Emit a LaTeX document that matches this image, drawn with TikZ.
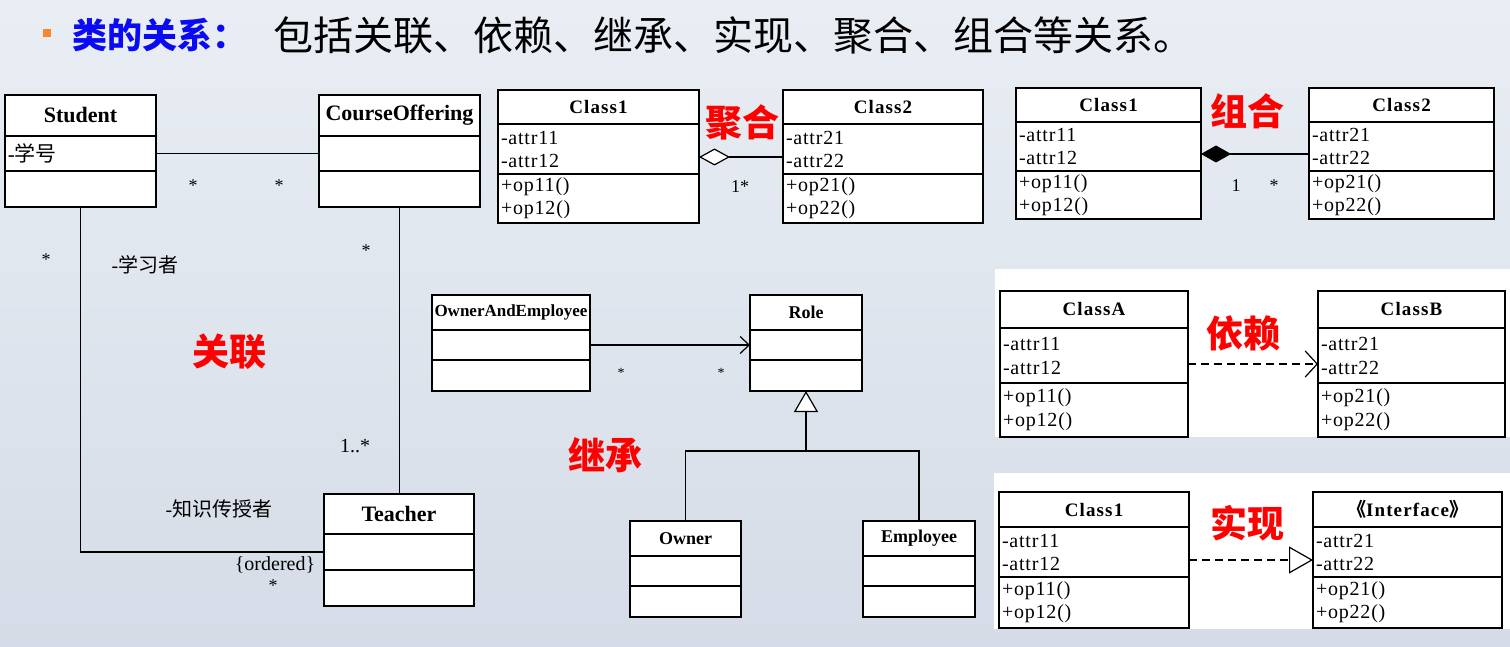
\documentclass[tikz,border=0pt]{standalone}
\usepackage{fontspec}
\setmainfont{Liberation Serif}
\newfontfamily\cjk{Noto Sans CJK SC}
\usetikzlibrary{arrows.meta,positioning}
\definecolor{bgtop}{RGB}{233,238,244}
\definecolor{bgbottom}{RGB}{213,220,231}
\definecolor{titleblue}{RGB}{10,10,245}
\definecolor{bulletorange}{RGB}{247,134,46}
\definecolor{relred}{RGB}{255,0,0}

\tikzset{
  umlhead/.style={draw, line width=1.6pt, fill=white, outer sep=0pt, inner sep=2pt, anchor=north west, font=\bfseries\addfontfeature{LetterSpace=6}\fontsize{19}{23}\selectfont},
  umlpart/.style={draw, line width=1.6pt, fill=white, outer sep=0pt, inner xsep=3pt, inner ysep=0pt, align=left, font=\addfontfeature{LetterSpace=4}\fontsize{20}{23}\selectfont},
  multtext/.style={inner sep=0pt, font=\fontsize{18}{20}\selectfont},
  roletext/.style={inner sep=0pt, font=\fontsize{20}{24}\selectfont},
  relname/.style={inner sep=0pt, text=relred, font=\cjk\bfseries\fontsize{37}{40}\selectfont},
  assocline/.style={line width=1.2pt},
  depline/.style={line width=1.2pt, dash pattern=on 8pt off 5pt},
}

\begin{document}
\begin{tikzpicture}[x=1pt, y=-1pt]
  \useasboundingbox (0,0) rectangle (1510,647);
  \shade[top color=bgtop, bottom color=bgbottom] (0,0) rectangle (1510,647);
  % white panels behind dependency and realization
  \fill[white] (995,269) rectangle (1510,437);
  \fill[white] (994,473) rectangle (1510,629);

  % title
  \node[fill=bulletorange, minimum size=8pt, inner sep=0pt] (bullet) at (47,33) {};
  \node[anchor=west, inner sep=0pt, text=titleblue, font=\cjk\bfseries\fontsize{35}{38}\selectfont] (ttl) at (72,35) {类的关系：};
  \node[anchor=west, inner sep=0pt, font=\cjk\fontsize{40}{42}\selectfont] (ttl-rest) at (273,35) {包括关联、依赖、继承、实现、聚合、组合等关系。};

  % association
  \node[umlhead, minimum width=151pt, minimum height=41pt, font=\bfseries\fontsize{22}{26}\selectfont] (stu) at (5,95) {Student};
  \node[umlpart, text width=145pt, minimum height=35pt, below=0pt of stu, font=\fontsize{21}{24}\selectfont] (stu-a) {-{\cjk 学号}};
  \node[umlpart, text width=145pt, minimum height=36pt, below=0pt of stu-a] (stu-o) {};

  \node[umlhead, minimum width=161pt, minimum height=41pt, font=\bfseries\fontsize{22}{26}\selectfont] (co) at (319,95) {CourseOffering};
  \node[umlpart, text width=155pt, minimum height=35pt, below=0pt of co] (co-a) {};
  \node[umlpart, text width=155pt, minimum height=36pt, below=0pt of co-a] (co-o) {};

  \node[umlhead, minimum width=150pt, minimum height=40pt, font=\bfseries\fontsize{22}{26}\selectfont] (tea) at (324,494) {Teacher};
  \node[umlpart, text width=144pt, minimum height=36pt, below=0pt of tea] (tea-a) {};
  \node[umlpart, text width=144pt, minimum height=36pt, below=0pt of tea-a] (tea-o) {};

  \draw[assocline] (stu-a.east) -- (co-a.west);
  \draw[assocline] (stu-o.south) |- (tea-a.west);
  \draw[assocline] (co-o.south) -- (co-o.south |- tea.north);

  \node[multtext] (m-stu) at (193,186) {*};
  \node[multtext] (m-co) at (279,186) {*};
  \node[multtext] (m-stu2) at (46,260) {*};
  \node[roletext] (r-learner) at (145,265) {-{\cjk 学习者}};
  \node[multtext] (m-co2) at (366,251) {*};
  \node[roletext] (m-tea) at (355,446) {1..*};
  \node[roletext] (r-teacher) at (219,509) {-{\cjk 知识传授者}};
  \node[roletext] (c-ordered) at (275,565) {\{ordered\}};
  \node[multtext] (m-tea2) at (273,586) {*};
  \node[relname] (lbl-assoc) at (229,352) {关联};

  % aggregation
  \node[umlhead, minimum width=201pt, minimum height=34pt] (agA) at (498,90) {Class1};
  \node[umlpart, text width=195pt, minimum height=50pt, below=0pt of agA] (agA-a) {-attr11\\-attr12};
  \node[umlpart, text width=195pt, minimum height=49pt, below=0pt of agA-a] (agA-o) {+op11()\\+op12()};

  \node[umlhead, minimum width=200pt, minimum height=34pt] (agB) at (783,90) {Class2};
  \node[umlpart, text width=194pt, minimum height=50pt, below=0pt of agB] (agB-a) {-attr21\\-attr22};
  \node[umlpart, text width=194pt, minimum height=49pt, below=0pt of agB-a] (agB-o) {+op21()\\+op22()};

  \draw[assocline, {Diamond[fill=white, length=31pt, width=17pt]}-] ([yshift=-8pt]agA-a.east) -- ([yshift=-8pt]agB-a.west);
  \node[multtext] (m-ag) at (740,187) {1*};
  \node[relname] (lbl-agg) at (742,122) {聚合};

  % composition
  \node[umlhead, minimum width=185pt, minimum height=34pt] (cpA) at (1016,88) {Class1};
  \node[umlpart, text width=179pt, minimum height=49pt, below=0pt of cpA] (cpA-a) {-attr11\\-attr12};
  \node[umlpart, text width=179pt, minimum height=48pt, below=0pt of cpA-a] (cpA-o) {+op11()\\+op12()};

  \node[umlhead, minimum width=185pt, minimum height=34pt] (cpB) at (1309,88) {Class2};
  \node[umlpart, text width=179pt, minimum height=49pt, below=0pt of cpB] (cpB-a) {-attr21\\-attr22};
  \node[umlpart, text width=179pt, minimum height=48pt, below=0pt of cpB-a] (cpB-o) {+op21()\\+op22()};

  \draw[assocline, {Diamond[length=30pt, width=17pt]}-] ([yshift=-7.5pt]cpA-a.east) -- ([yshift=-7.5pt]cpB-a.west);
  \node[multtext] (m-cp1) at (1236,186) {1};
  \node[multtext] (m-cp2) at (1274,186) {*};
  \node[relname] (lbl-comp) at (1247,111) {组合};

  % generalization
  \node[umlhead, minimum width=158pt, minimum height=35pt, font=\bfseries\fontsize{17}{20}\selectfont] (oae) at (432,295) {OwnerAndEmployee};
  \node[umlpart, text width=152pt, minimum height=30pt, below=0pt of oae] (oae-a) {};
  \node[umlpart, text width=152pt, minimum height=31pt, below=0pt of oae-a] (oae-o) {};

  \node[umlhead, minimum width=112pt, minimum height=35pt, font=\bfseries\fontsize{18}{20}\selectfont] (rl) at (750,295) {Role};
  \node[umlpart, text width=106pt, minimum height=30pt, below=0pt of rl] (rl-a) {};
  \node[umlpart, text width=106pt, minimum height=31pt, below=0pt of rl-a] (rl-o) {};

  \node[umlhead, minimum width=111pt, minimum height=35pt, font=\bfseries\fontsize{18}{20}\selectfont] (own) at (630,521) {Owner};
  \node[umlpart, text width=105pt, minimum height=30pt, below=0pt of own] (own-a) {};
  \node[umlpart, text width=105pt, minimum height=31pt, below=0pt of own-a] (own-o) {};

  \node[umlhead, minimum width=112pt, minimum height=35pt, font=\bfseries\fontsize{18}{20}\selectfont] (emp) at (863,521) {Employee};
  \node[umlpart, text width=106pt, minimum height=30pt, below=0pt of emp] (emp-a) {};
  \node[umlpart, text width=106pt, minimum height=31pt, below=0pt of emp-a] (emp-o) {};

  \draw[assocline, -{Straight Barb[length=9pt, width=17pt]}] (oae-a.east) -- (rl-a.west);
  \node[multtext, font=\fontsize{14}{16}\selectfont] (m-oae) at (621,373) {*};
  \node[multtext, font=\fontsize{14}{16}\selectfont] (m-rl) at (721,373) {*};
  \draw[assocline, {Triangle[fill=white, length=21pt, width=24pt]}-] (rl-o.south) -- ++(0,60) coordinate (jn) -| (own.north);
  \draw[assocline] (jn) -| (emp.north);
  \node[relname] (lbl-inh) at (605,455) {继承};

  % dependency
  \node[umlhead, minimum width=188pt, minimum height=37pt] (dpA) at (1000,291) {ClassA};
  \node[umlpart, text width=182pt, minimum height=55pt, below=0pt of dpA, font=\addfontfeature{LetterSpace=4}\fontsize{20}{24}\selectfont] (dpA-a) {-attr11\\-attr12};
  \node[umlpart, text width=182pt, minimum height=54pt, below=0pt of dpA-a, font=\addfontfeature{LetterSpace=4}\fontsize{20}{24}\selectfont] (dpA-o) {+op11()\\+op12()};

  \node[umlhead, minimum width=187pt, minimum height=37pt] (dpB) at (1318,291) {ClassB};
  \node[umlpart, text width=181pt, minimum height=55pt, below=0pt of dpB, font=\addfontfeature{LetterSpace=4}\fontsize{20}{24}\selectfont] (dpB-a) {-attr21\\-attr22};
  \node[umlpart, text width=181pt, minimum height=54pt, below=0pt of dpB-a, font=\addfontfeature{LetterSpace=4}\fontsize{20}{24}\selectfont] (dpB-o) {+op21()\\+op22()};

  \draw[depline, -{Straight Barb[length=12pt, width=26pt]}] ([yshift=-8.5pt]dpA-a.east) -- ([yshift=-8.5pt]dpB-a.west);
  \node[relname] (lbl-dep) at (1243,333) {依赖};

  % realization
  \node[umlhead, minimum width=190pt, minimum height=35pt] (rzA) at (999,492) {Class1};
  \node[umlpart, text width=184pt, minimum height=50pt, below=0pt of rzA] (rzA-a) {-attr11\\-attr12};
  \node[umlpart, text width=184pt, minimum height=51pt, below=0pt of rzA-a] (rzA-o) {+op11()\\+op12()};

  \node[umlhead, minimum width=189pt, minimum height=35pt] (rzB) at (1313,492) {{\cjk 《}Interface{\cjk 》}};
  \node[umlpart, text width=183pt, minimum height=50pt, below=0pt of rzB] (rzB-a) {-attr21\\-attr22};
  \node[umlpart, text width=183pt, minimum height=51pt, below=0pt of rzB-a] (rzB-o) {+op21()\\+op22()};

  \draw[depline, -{Triangle[fill=white, length=24pt, width=27pt]}] ([yshift=-8pt]rzA-a.east) -- ([yshift=-8pt]rzB-a.west);
  \node[relname] (lbl-real) at (1247,523) {实现};
\end{tikzpicture}
\end{document}
